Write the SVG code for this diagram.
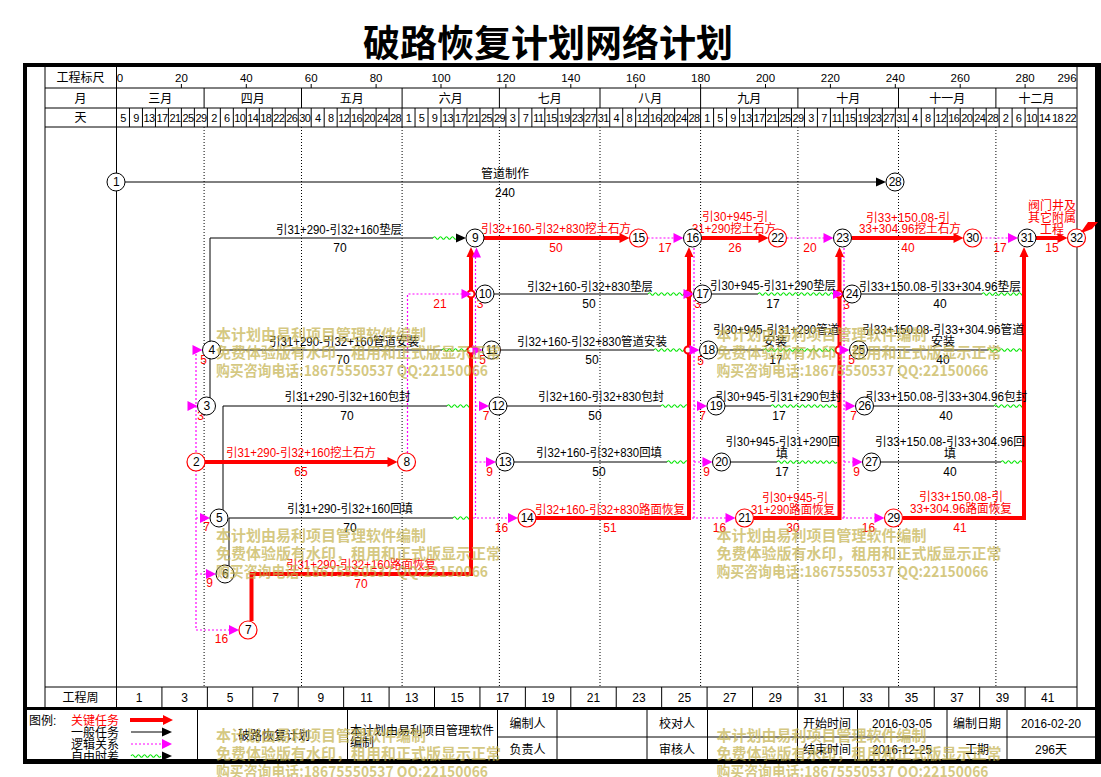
<svg xmlns="http://www.w3.org/2000/svg" width="1101" height="777" viewBox="0 0 1101 777">
<style>
text{font-family:"Liberation Sans","Noto Sans CJK SC",sans-serif;font-size:12px;fill:#000}
.m{text-anchor:middle}
.r{fill:#f00}
.day{font-size:11px;text-anchor:middle;letter-spacing:-0.6px}
.num{font-size:11.5px;text-anchor:middle}
.wm{font-family:"Noto Sans CJK SC",sans-serif;font-size:15px;font-weight:700;fill:#c2b04a;fill-opacity:.7}
.ln{stroke:#000;stroke-width:1;fill:none}
.crit{stroke:#f00;stroke-width:4;fill:none}
.lg{stroke:#f0f;stroke-width:1.2;stroke-dasharray:2 2;fill:none}
.dot{stroke:#000;stroke-width:1;stroke-dasharray:1 2;fill:none}
.wave{stroke:#00e600;stroke-width:1.1;fill:none}
.jn{fill:#fff;stroke:#f00;stroke-width:2}
.nb circle{fill:#fff;stroke:#000;stroke-width:1}
.nr circle{fill:#fff;stroke:#f00;stroke-width:1.2}
.nb text,.nr text{text-anchor:middle;letter-spacing:-0.5px}
</style>
<defs>
<path id="ar" d="M0,0L-10,-5L-10,5Z"/>
<path id="ab" d="M0,0L-10,-4.5L-10,4.5Z"/>
<path id="au" d="M0,0L-4.5,10L4.5,10Z"/>
</defs>
<rect x="0" y="0" width="1101" height="777" fill="#fff"/>
<text x="548" y="57" font-size="37" font-weight="700" text-anchor="middle" style="font-family:'Noto Sans CJK SC',sans-serif;font-size:37px">破路恢复计划网络计划</text>

<g id="header">
<path class="ln" d="M45,65V708M116.5,65V708M1077,65V708M45,88H1077M45,108H1077M45,127H1077M45,687H1077"/>
<path class="ln" d="M181.4,84V88M246.3,84V88M311.2,84V88M376.1,84V88M441,84V88M505.9,84V88M570.8,84V88M635.7,84V88M700.6,84V88M765.5,84V88M830.4,84V88M895.3,84V88M960.2,84V88M1025.1,84V88"/>
<path class="ln" d="M204.1,88V108M301.5,88V108M402.1,88V108M499.4,88V108M600,88V108M700.6,88V108M797.9,88V108M898.5,88V108M995.9,88V108"/>
<path class="ln" d="M129.48,108v19m12.98,-19v19m12.98,-19v19m12.98,-19v19m12.98,-19v19m12.98,-19v19m12.98,-19v19m12.98,-19v19m12.98,-19v19m12.98,-19v19m12.98,-19v19m12.98,-19v19m12.98,-19v19m12.98,-19v19m12.98,-19v19m12.98,-19v19m12.98,-19v19m12.98,-19v19m12.98,-19v19m12.98,-19v19m12.98,-19v19m12.98,-19v19m12.98,-19v19m12.98,-19v19m12.98,-19v19m12.98,-19v19m12.98,-19v19m12.98,-19v19m12.98,-19v19m12.98,-19v19m12.98,-19v19m12.98,-19v19m12.98,-19v19m12.98,-19v19m12.98,-19v19m12.98,-19v19m12.98,-19v19m12.98,-19v19m12.98,-19v19m12.98,-19v19m12.98,-19v19m12.98,-19v19m12.98,-19v19m12.98,-19v19m12.98,-19v19m12.98,-19v19m12.98,-19v19m12.98,-19v19m12.98,-19v19m12.98,-19v19m12.98,-19v19m12.98,-19v19m12.98,-19v19m12.98,-19v19m12.98,-19v19m12.98,-19v19m12.98,-19v19m12.98,-19v19m12.98,-19v19m12.98,-19v19m12.98,-19v19m12.98,-19v19m12.98,-19v19m12.98,-19v19m12.98,-19v19m12.98,-19v19m12.98,-19v19m12.98,-19v19m12.98,-19v19m12.98,-19v19m12.98,-19v19"/>
<path class="ln" d="M161.93,687v20m45.43,-20v20m45.43,-20v20m45.43,-20v20m45.43,-20v20m45.43,-20v20m45.43,-20v20m45.43,-20v20m45.43,-20v20m45.43,-20v20m45.43,-20v20m45.43,-20v20m45.43,-20v20m45.43,-20v20m45.43,-20v20m45.43,-20v20m45.43,-20v20m45.43,-20v20m45.43,-20v20m45.43,-20v20"/>
<path class="dot" d="M204.1,127V687M301.5,127V687M402.1,127V687M499.4,127V687M600,127V687M700.6,127V687M797.9,127V687M898.5,127V687M995.9,127V687"/>
<text class="m" x="80.5" y="81.5">工程标尺</text>
<text class="m" x="80.5" y="102.5">月</text>
<text class="m" x="80.5" y="122">天</text>
<text class="m" x="80.5" y="701.5">工程周</text>
<text class="num" y="81.5"><tspan x="120">0</tspan><tspan x="181.4">20</tspan><tspan x="246.3">40</tspan><tspan x="311.2">60</tspan><tspan x="376.1">80</tspan><tspan x="441">100</tspan><tspan x="505.9">120</tspan><tspan x="570.8">140</tspan><tspan x="635.7">160</tspan><tspan x="700.6">180</tspan><tspan x="765.5">200</tspan><tspan x="830.4">220</tspan><tspan x="895.3">240</tspan><tspan x="960.2">260</tspan><tspan x="1025.1">280</tspan><tspan x="1067">296</tspan></text>
<text class="m" y="102.5"><tspan x="160.3">三月</tspan><tspan x="252.8">四月</tspan><tspan x="351.8">五月</tspan><tspan x="450.8">六月</tspan><tspan x="549.7">七月</tspan><tspan x="650.3">八月</tspan><tspan x="749.3">九月</tspan><tspan x="848.2">十月</tspan><tspan x="947.2">十一月</tspan><tspan x="1036.5">十二月</tspan></text>
<text class="day" y="121.5"><tspan x="123">5</tspan><tspan x="136">9</tspan><tspan x="148.9">13</tspan><tspan x="161.9">17</tspan><tspan x="174.9">21</tspan><tspan x="187.9">25</tspan><tspan x="200.9">29</tspan><tspan x="213.9">2</tspan><tspan x="226.8">6</tspan><tspan x="239.8">10</tspan><tspan x="252.8">14</tspan><tspan x="265.8">18</tspan><tspan x="278.8">22</tspan><tspan x="291.7">26</tspan><tspan x="304.7">30</tspan><tspan x="317.7">4</tspan><tspan x="330.7">8</tspan><tspan x="343.7">12</tspan><tspan x="356.6">16</tspan><tspan x="369.6">20</tspan><tspan x="382.6">24</tspan><tspan x="395.6">28</tspan><tspan x="408.6">1</tspan><tspan x="421.5">5</tspan><tspan x="434.5">9</tspan><tspan x="447.5">13</tspan><tspan x="460.5">17</tspan><tspan x="473.5">21</tspan><tspan x="486.4">25</tspan><tspan x="499.4">29</tspan><tspan x="512.4">3</tspan><tspan x="525.4">7</tspan><tspan x="538.4">11</tspan><tspan x="551.3">15</tspan><tspan x="564.3">19</tspan><tspan x="577.3">23</tspan><tspan x="590.3">27</tspan><tspan x="603.3">31</tspan><tspan x="616.2">4</tspan><tspan x="629.2">8</tspan><tspan x="642.2">12</tspan><tspan x="655.2">16</tspan><tspan x="668.2">20</tspan><tspan x="681.1">24</tspan><tspan x="694.1">28</tspan><tspan x="707.1">1</tspan><tspan x="720.1">5</tspan><tspan x="733.1">9</tspan><tspan x="746">13</tspan><tspan x="759">17</tspan><tspan x="772">21</tspan><tspan x="785">25</tspan><tspan x="798">29</tspan><tspan x="810.9">3</tspan><tspan x="823.9">7</tspan><tspan x="836.9">11</tspan><tspan x="849.9">15</tspan><tspan x="862.9">19</tspan><tspan x="875.8">23</tspan><tspan x="888.8">27</tspan><tspan x="901.8">31</tspan><tspan x="914.8">4</tspan><tspan x="927.8">8</tspan><tspan x="940.7">12</tspan><tspan x="953.7">16</tspan><tspan x="966.7">20</tspan><tspan x="979.7">24</tspan><tspan x="992.7">28</tspan><tspan x="1005.6">2</tspan><tspan x="1018.6">6</tspan><tspan x="1031.6">10</tspan><tspan x="1044.6">14</tspan><tspan x="1057.6">18</tspan><tspan x="1070.5">22</tspan></text>
<text class="m" y="701.5"><tspan x="139.2">1</tspan><tspan x="184.6">3</tspan><tspan x="230.1">5</tspan><tspan x="275.5">7</tspan><tspan x="320.9">9</tspan><tspan x="366.4">11</tspan><tspan x="411.8">13</tspan><tspan x="457.2">15</tspan><tspan x="502.6">17</tspan><tspan x="548.1">19</tspan><tspan x="593.5">21</tspan><tspan x="638.9">23</tspan><tspan x="684.4">25</tspan><tspan x="729.8">27</tspan><tspan x="775.2">29</tspan><tspan x="820.7">31</tspan><tspan x="866.1">33</tspan><tspan x="911.5">35</tspan><tspan x="956.9">37</tspan><tspan x="1002.4">39</tspan><tspan x="1047.8">41</tspan></text>
</g>

<g id="connectors">
<path class="ln" d="M125,182H877M210,398V238H433M220.5,350H442M223,510V406H447M229,566V518H453M494,294H648M500.5,350H654M507,406H661M514,462H667M711.5,294H758M717.5,350H764M725,406H771M730.5,462H777M861,294H982M867.5,350H988M873.5,406H994M880.5,462H1001"/>
<path class="wave" d="M433,238q1.5,-2.5 3,0t3,0t3,0t3,0t3,0t3,0t3,0t3,0
M442,350q1.5,-2.5 3,0t3,0t3,0t3,0t3,0t3,0t3,0t3,0t3,0
M447,406q1.5,-2.5 3,0t3,0t3,0t3,0t3,0t3,0t3,0t3,0
M453,518q1.5,-2.5 3,0t3,0t3,0t3,0t3,0t3,0
M648,294q1.5,-2.5 3,0t3,0t3,0t3,0t3,0t3,0t3,0t3,0t3,0t3,0t3,0t3,0t3,0
M654,350q1.5,-2.5 3,0t3,0t3,0t3,0t3,0t3,0t3,0t3,0t3,0t3,0t3,0
M661,406q1.5,-2.5 3,0t3,0t3,0t3,0t3,0t3,0t3,0t3,0t3,0
M667,462q1.5,-2.5 3,0t3,0t3,0t3,0t3,0t3,0t3,0
M758,294q1.5,-2.5 3,0t3,0t3,0t3,0t3,0t3,0t3,0t3,0t3,0t3,0t3,0t3,0t3,0t3,0t3,0t3,0t3,0t3,0t3,0t3,0t3,0t3,0t3,0t3,0t3,0t3,0
M764,350q1.5,-2.5 3,0t3,0t3,0t3,0t3,0t3,0t3,0t3,0t3,0t3,0t3,0t3,0t3,0t3,0t3,0t3,0t3,0t3,0t3,0t3,0t3,0t3,0t3,0t3,0
M771,406q1.5,-2.5 3,0t3,0t3,0t3,0t3,0t3,0t3,0t3,0t3,0t3,0t3,0t3,0t3,0t3,0t3,0t3,0t3,0t3,0t3,0t3,0t3,0t3,0
M777,462q1.5,-2.5 3,0t3,0t3,0t3,0t3,0t3,0t3,0t3,0t3,0t3,0t3,0t3,0t3,0t3,0t3,0t3,0t3,0t3,0t3,0t3,0
M982,294q1.5,-2.5 3,0t3,0t3,0t3,0t3,0t3,0t3,0t3,0t3,0t3,0t3,0t3,0t3,0t3,0
M988,350q1.5,-2.5 3,0t3,0t3,0t3,0t3,0t3,0t3,0t3,0t3,0t3,0t3,0t3,0
M994,406q1.5,-2.5 3,0t3,0t3,0t3,0t3,0t3,0t3,0t3,0t3,0t3,0
M1001,462q1.5,-2.5 3,0t3,0t3,0t3,0t3,0t3,0t3,0t3,0"/>
<use href="#ab" x="886" y="182"/>
<use href="#ab" x="466" y="238"/>
<path class="lg" d="M196,350V630H230M196,518H201M196,574H207M407.5,453V294H462M475.5,257V518M475.5,406H480M475.5,462H487M473,518H509M647.5,238H674M694,248V518M694,406H698M694,462H703M692,518H726M786.5,238H824M844,248V518M844,406H847M844,462H853M842,518H875M981.5,238H1009"/>
<path class="crit" d="M205,462H389M251.5,621V574H471V256M484,238H621M536,518H689V256M701.5,238H760M753.5,518H839.5V256M851.5,238H955M902.5,518H1024V256M1036,238H1059"/>
<g fill="#f00">
<use href="#ar" x="397.5" y="462"/>
<use href="#ar" x="629.5" y="238"/>
<use href="#ar" x="768.5" y="238"/>
<use href="#ar" x="963.5" y="238"/>
<use href="#ar" x="1067.5" y="238"/>
<use href="#au" x="471" y="247"/>
<use href="#au" x="689" y="247"/>
<use href="#au" x="839.5" y="247"/>
<use href="#au" x="1024" y="247"/>
</g>
<circle class="jn" cx="471" cy="294" r="3.5"/>
<circle class="jn" cx="471" cy="350" r="3.5"/>
<circle class="jn" cx="688" cy="294" r="3.5"/>
<circle class="jn" cx="688" cy="350" r="3.5"/>
<circle class="jn" cx="839" cy="294" r="3.5"/>
<circle class="jn" cx="839" cy="350" r="3.5"/>
<g fill="#f0f">
<use href="#ar" x="202.5" y="350"/>
<use href="#ar" x="197.5" y="406"/>
<use href="#ar" x="210" y="518"/>
<use href="#ar" x="216" y="574"/>
<use href="#ar" x="239" y="630"/>
<use href="#ar" x="471.5" y="294"/>
<use href="#au" x="476.5" y="247.5"/>
<use href="#ar" x="482.5" y="350"/>
<use href="#ar" x="489" y="406"/>
<use href="#ar" x="496" y="462"/>
<use href="#ar" x="518" y="518"/>
<use href="#ar" x="683.5" y="238"/>
<use href="#ar" x="693.5" y="294"/>
<use href="#ar" x="699.5" y="350"/>
<use href="#ar" x="707" y="406"/>
<use href="#ar" x="712.5" y="462"/>
<use href="#ar" x="735.5" y="518"/>
<use href="#ar" x="833.5" y="238"/>
<use href="#ar" x="843" y="294"/>
<use href="#ar" x="849.5" y="350"/>
<use href="#ar" x="855.5" y="406"/>
<use href="#ar" x="862.5" y="462"/>
<use href="#ar" x="884.5" y="518"/>
<use href="#ar" x="1018" y="238"/>
</g>
</g>

<g id="labels">
<g class="m">
<text x="505" y="177.5">管道制作</text><text x="505" y="197">240</text>
<text x="339" y="234" textLength="126" lengthAdjust="spacingAndGlyphs">引31+290-引32+160垫层</text><text x="340" y="252">70</text>
<text x="344" y="346" textLength="150" lengthAdjust="spacingAndGlyphs">引31+290-引32+160管道安装</text><text x="343" y="364">70</text>
<text x="347.5" y="401" textLength="126" lengthAdjust="spacingAndGlyphs">引31+290-引32+160包封</text><text x="347" y="420">70</text>
<text x="350" y="513" textLength="126" lengthAdjust="spacingAndGlyphs">引31+290-引32+160回填</text><text x="350" y="532">70</text>
<text x="590" y="291" textLength="126" lengthAdjust="spacingAndGlyphs">引32+160-引32+830垫层</text><text x="589" y="308">50</text>
<text x="592" y="346" textLength="150" lengthAdjust="spacingAndGlyphs">引32+160-引32+830管道安装</text><text x="592" y="364">50</text>
<text x="601" y="401" textLength="126" lengthAdjust="spacingAndGlyphs">引32+160-引32+830包封</text><text x="595" y="420">50</text>
<text x="599" y="457" textLength="126" lengthAdjust="spacingAndGlyphs">引32+160-引32+830回填</text><text x="599" y="476">50</text>
<text x="773" y="290" textLength="126" lengthAdjust="spacingAndGlyphs">引30+945-引31+290垫层</text><text x="773" y="308">17</text>
<text x="776" y="334" textLength="126" lengthAdjust="spacingAndGlyphs">引30+945-引31+290管道</text><text x="775" y="346">安装</text><text x="776" y="364">17</text>
<text x="778.5" y="401" textLength="126" lengthAdjust="spacingAndGlyphs">引30+945-引31+290包封</text><text x="779" y="420">17</text>
<text x="782.5" y="445.5" textLength="114" lengthAdjust="spacingAndGlyphs">引30+945-引31+290回</text><text x="782" y="457.5">填</text><text x="782" y="476">17</text>
<text x="940" y="291" textLength="162" lengthAdjust="spacingAndGlyphs">引33+150.08-引33+304.96垫层</text><text x="940" y="308">40</text>
<text x="943" y="334" textLength="162" lengthAdjust="spacingAndGlyphs">引33+150.08-引33+304.96管道</text><text x="943" y="346">安装</text><text x="943" y="364">40</text>
<text x="946.5" y="401" textLength="162" lengthAdjust="spacingAndGlyphs">引33+150.08-引33+304.96包封</text><text x="946" y="420">40</text>
<text x="950" y="446" textLength="150" lengthAdjust="spacingAndGlyphs">引33+150.08-引33+304.96回</text><text x="950" y="457.5">填</text><text x="950" y="476">40</text>
</g>
<g class="m r">
<text class="r" x="301" y="457" textLength="150" lengthAdjust="spacingAndGlyphs">引31+290-引32+160挖土石方</text><text class="r" x="301" y="476">65</text>
<text class="r" x="361" y="569" textLength="150" lengthAdjust="spacingAndGlyphs">引31+290-引32+160路面恢复</text><text class="r" x="361" y="588">70</text>
<text class="r" x="556" y="233" textLength="150" lengthAdjust="spacingAndGlyphs">引32+160-引32+830挖土石方</text><text class="r" x="556" y="252">50</text>
<text class="r" x="735" y="221" textLength="66" lengthAdjust="spacingAndGlyphs">引30+945-引</text><text class="r" x="734" y="233" textLength="84" lengthAdjust="spacingAndGlyphs">31+290挖土石方</text><text class="r" x="735" y="252">26</text>
<text class="r" x="908" y="222" textLength="84" lengthAdjust="spacingAndGlyphs">引33+150.08-引</text><text class="r" x="910" y="233" textLength="102" lengthAdjust="spacingAndGlyphs">33+304.96挖土石方</text><text class="r" x="908" y="252">40</text>
<text class="r" x="1052" y="210">阀门井及</text><text class="r" x="1052" y="222">其它附属</text><text class="r" x="1052" y="234">工程</text><text class="r" x="1052" y="252">15</text>
<text class="r" x="610" y="514" textLength="150" lengthAdjust="spacingAndGlyphs">引32+160-引32+830路面恢复</text><text class="r" x="610" y="531.5">51</text>
<text class="r" x="795" y="502" textLength="66" lengthAdjust="spacingAndGlyphs">引30+945-引</text><text class="r" x="793" y="514" textLength="84" lengthAdjust="spacingAndGlyphs">31+290路面恢复</text><text class="r" x="793" y="531.5">30</text>
<text class="r" x="961" y="501" textLength="84" lengthAdjust="spacingAndGlyphs">引33+150.08-引</text><text class="r" x="961" y="513" textLength="102" lengthAdjust="spacingAndGlyphs">33+304.96路面恢复</text><text class="r" x="960" y="532">41</text>
<text class="r" x="665" y="252">17</text><text class="r" x="810" y="252">20</text><text class="r" x="1000" y="252">17</text><text class="r" x="440" y="308">21</text>
<text class="r" x="203.5" y="364">5</text><text class="r" x="200.5" y="420">3</text><text class="r" x="206.5" y="531">7</text><text class="r" x="209.5" y="587">9</text><text class="r" x="221.5" y="643">16</text>
<text class="r" x="480" y="308">3</text><text class="r" x="482.5" y="364">5</text><text class="r" x="486" y="420">7</text><text class="r" x="489.5" y="476">9</text><text class="r" x="501.5" y="531.5">16</text>
<text class="r" x="697.5" y="308">3</text><text class="r" x="700.5" y="365">5</text><text class="r" x="702.5" y="420">7</text><text class="r" x="706.5" y="476">9</text><text class="r" x="719.5" y="531.5">16</text>
<text class="r" x="846.5" y="309">3</text><text class="r" x="851.5" y="364">5</text><text class="r" x="853.5" y="420">7</text><text class="r" x="856.5" y="476">9</text><text class="r" x="868.5" y="532">16</text>
</g>
</g>

<g id="nodes">
<g id="n1" class="nb"><circle cx="116" cy="182" r="9"/><text x="116" y="186.3">1</text></g>
<g id="n2" class="nr"><circle cx="196" cy="462" r="9"/><text x="196" y="466.3">2</text></g>
<g id="n3" class="nb"><circle cx="206.5" cy="406" r="9"/><text x="206.5" y="410.3">3</text></g>
<g id="n4" class="nb"><circle cx="211.5" cy="350" r="9"/><text x="211.5" y="354.3">4</text></g>
<g id="n5" class="nb"><circle cx="219" cy="518" r="9"/><text x="219" y="522.3">5</text></g>
<g id="n6" class="nb"><circle cx="225" cy="574" r="9"/><text x="225" y="578.3">6</text></g>
<g id="n7" class="nr"><circle cx="248" cy="630" r="9"/><text x="248" y="634.3">7</text></g>
<g id="n8" class="nr"><circle cx="406.5" cy="462" r="9"/><text x="406.5" y="466.3">8</text></g>
<g id="n9" class="nb"><circle cx="475" cy="238" r="9"/><text x="475" y="242.3">9</text></g>
<g id="n10" class="nb"><circle cx="485" cy="294" r="9"/><text x="485" y="298.3">10</text></g>
<g id="n11" class="nb"><circle cx="491.5" cy="350" r="9"/><text x="491.5" y="354.3">11</text></g>
<g id="n12" class="nb"><circle cx="498" cy="406" r="9"/><text x="498" y="410.3">12</text></g>
<g id="n13" class="nb"><circle cx="505" cy="462" r="9"/><text x="505" y="466.3">13</text></g>
<g id="n14" class="nr"><circle cx="527" cy="518" r="9"/><text x="527" y="522.3">14</text></g>
<g id="n15" class="nr"><circle cx="638.5" cy="238" r="9"/><text x="638.5" y="242.3">15</text></g>
<g id="n16" class="nb"><circle cx="692.5" cy="238" r="9"/><text x="692.5" y="242.3">16</text></g>
<g id="n17" class="nb"><circle cx="702.5" cy="294" r="9"/><text x="702.5" y="298.3">17</text></g>
<g id="n18" class="nb"><circle cx="708.5" cy="350" r="9"/><text x="708.5" y="354.3">18</text></g>
<g id="n19" class="nb"><circle cx="716" cy="406" r="9"/><text x="716" y="410.3">19</text></g>
<g id="n20" class="nb"><circle cx="721.5" cy="462" r="9"/><text x="721.5" y="466.3">20</text></g>
<g id="n21" class="nr"><circle cx="744.5" cy="518" r="9"/><text x="744.5" y="522.3">21</text></g>
<g id="n22" class="nr"><circle cx="777.5" cy="238" r="9"/><text x="777.5" y="242.3">22</text></g>
<g id="n23" class="nb"><circle cx="842.5" cy="238" r="9"/><text x="842.5" y="242.3">23</text></g>
<g id="n24" class="nb"><circle cx="852" cy="294" r="9"/><text x="852" y="298.3">24</text></g>
<g id="n25" class="nb"><circle cx="858.5" cy="350" r="9"/><text x="858.5" y="354.3">25</text></g>
<g id="n26" class="nb"><circle cx="864.5" cy="406" r="9"/><text x="864.5" y="410.3">26</text></g>
<g id="n27" class="nb"><circle cx="871.5" cy="462" r="9"/><text x="871.5" y="466.3">27</text></g>
<g id="n28" class="nb"><circle cx="895" cy="182" r="9"/><text x="895" y="186.3">28</text></g>
<g id="n29" class="nr"><circle cx="893.5" cy="518" r="9"/><text x="893.5" y="522.3">29</text></g>
<g id="n30" class="nr"><circle cx="972.5" cy="238" r="9"/><text x="972.5" y="242.3">30</text></g>
<g id="n31" class="nb"><circle cx="1027" cy="238" r="9"/><text x="1027" y="242.3">31</text></g>
<g id="n32" class="nr"><circle cx="1076.5" cy="238" r="9"/><text x="1076.5" y="242.3">32</text></g>
</g>

<g id="footer">
<rect x="25" y="707" width="1071" height="3" fill="#000"/>
<path class="ln" d="M197.5,709V760M347.5,709V760M497.5,709V760M557,709V760M647,709V760M707.5,709V760M797.5,709V760M857.5,709V760M947,709V760M1007,709V760M497.5,737H1095"/>
<text x="29" y="724.5">图例:</text>
<text class="r" x="71" y="724.5">关键任务</text>
<text x="71" y="736.5">一般任务</text>
<text x="71" y="748.5">逻辑关系</text>
<text x="71" y="760.5">自由时差</text>
<path class="crit" d="M130,720H164"/><use href="#ar" x="173" y="720" fill="#f00"/>
<path class="ln" d="M131,732H163"/><use href="#ab" x="172" y="732"/>
<path class="lg" d="M131,744H163"/><use href="#ar" x="172" y="744" fill="#f0f"/>
<path class="wave" d="M131,756q1.5,-2.5 3,0t3,0t3,0t3,0t3,0t3,0t3,0t3,0t3,0t3,0"/><use href="#ab" x="172" y="756"/>
<text class="m" x="274" y="739.5">破路恢复计划</text>
<text x="350" y="734.5">本计划由易利项目管理软件</text>
<text x="350" y="746.5">编制</text>
<g class="m">
<text x="527.5" y="727.5">编制人</text><text x="527.5" y="753.5">负责人</text>
<text x="677" y="727.5">校对人</text><text x="677" y="753.5">审核人</text>
<text x="827" y="727.5">开始时间</text><text x="827" y="753.5">结束时间</text>
<text x="902" y="727.5" textLength="60" lengthAdjust="spacingAndGlyphs">2016-03-05</text><text x="902" y="753.5" textLength="60" lengthAdjust="spacingAndGlyphs">2016-12-25</text>
<text x="977" y="727.5">编制日期</text><text x="977" y="753.5">工期</text>
<text x="1051" y="727.5" textLength="60" lengthAdjust="spacingAndGlyphs">2016-02-20</text><text x="1051" y="753.5">296天</text>
</g>
</g>

<g id="frame" fill="#000">
<rect x="23" y="63" width="4" height="701"/>
<rect x="23" y="63" width="1078" height="4"/>
<rect x="1095" y="63" width="6" height="701"/>
<rect x="23" y="759" width="1078" height="5"/>
</g>
<polygon points="1081,232 1088,222 1098,222 1092,229 1084,232" fill="#f00"/>

<g id="watermark" class="wm">
<text class="wm" x="216" y="339.5">本计划由易利项目管理软件编制</text>
<text class="wm" x="216" y="357.5">免费体验版有水印，租用和正式版显示正常</text>
<text class="wm" x="216" y="375.5" textLength="272" lengthAdjust="spacingAndGlyphs">购买咨询电话:18675550537 QQ:22150066</text>
<text class="wm" x="716.5" y="339.5">本计划由易利项目管理软件编制</text>
<text class="wm" x="716.5" y="357.5">免费体验版有水印，租用和正式版显示正常</text>
<text class="wm" x="716.5" y="375.5" textLength="272" lengthAdjust="spacingAndGlyphs">购买咨询电话:18675550537 QQ:22150066</text>
<text class="wm" x="216" y="540.5">本计划由易利项目管理软件编制</text>
<text class="wm" x="216" y="558.5">免费体验版有水印，租用和正式版显示正常</text>
<text class="wm" x="216" y="576.5" textLength="272" lengthAdjust="spacingAndGlyphs">购买咨询电话:18675550537 QQ:22150066</text>
<text class="wm" x="716.5" y="540.5">本计划由易利项目管理软件编制</text>
<text class="wm" x="716.5" y="558.5">免费体验版有水印，租用和正式版显示正常</text>
<text class="wm" x="716.5" y="576.5" textLength="272" lengthAdjust="spacingAndGlyphs">购买咨询电话:18675550537 QQ:22150066</text>
<text class="wm" x="216" y="740.5">本计划由易利项目管理软件编制</text>
<text class="wm" x="216" y="758.5">免费体验版有水印，租用和正式版显示正常</text>
<text class="wm" x="216" y="776.5" textLength="272" lengthAdjust="spacingAndGlyphs">购买咨询电话:18675550537 QQ:22150066</text>
<text class="wm" x="716.5" y="740.5">本计划由易利项目管理软件编制</text>
<text class="wm" x="716.5" y="758.5">免费体验版有水印，租用和正式版显示正常</text>
<text class="wm" x="716.5" y="776.5" textLength="272" lengthAdjust="spacingAndGlyphs">购买咨询电话:18675550537 QQ:22150066</text>
</g>
</svg>
